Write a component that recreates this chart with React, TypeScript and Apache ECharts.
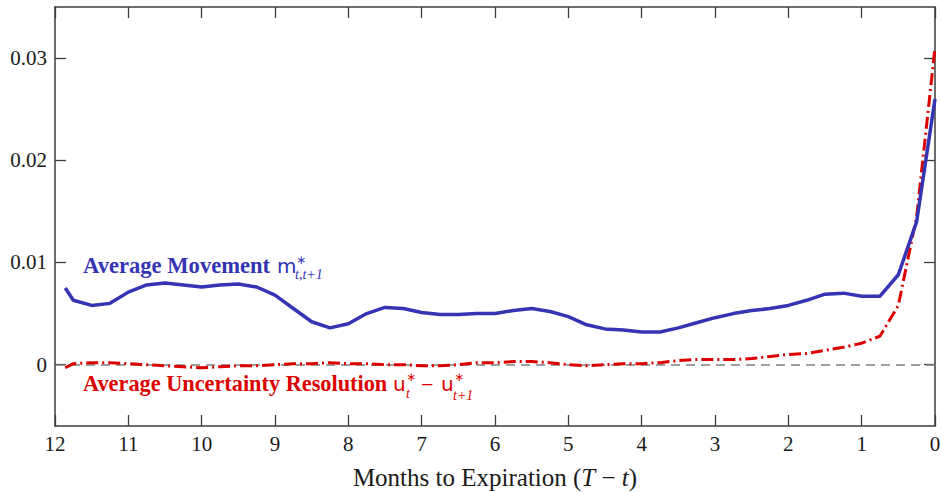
import React, { useEffect, useRef } from "react";
import * as echarts from "echarts";

const months = [
  11.86, 11.75, 11.5, 11.25, 11.0, 10.75, 10.5, 10.25, 10.0, 9.75, 9.5, 9.25, 9.0,
  8.75, 8.5, 8.25, 8.0, 7.75, 7.5, 7.25, 7.0, 6.75, 6.5, 6.25, 6.0, 5.75, 5.5, 5.25,
  5.0, 4.75, 4.5, 4.25, 4.0, 3.75, 3.5, 3.25, 3.0, 2.75, 2.5, 2.25, 2.0, 1.75, 1.5,
  1.25, 1.0, 0.75, 0.5, 0.25, 0.0,
];

const movement = [
  0.0075, 0.0063, 0.0058, 0.006, 0.0071, 0.0078, 0.008, 0.0078, 0.0076, 0.0078, 0.0079,
  0.0076, 0.0068, 0.0055, 0.0042, 0.0036, 0.004, 0.005, 0.0056, 0.0055, 0.0051, 0.0049,
  0.0049, 0.005, 0.005, 0.0053, 0.0055, 0.0052, 0.0047, 0.0039, 0.0035, 0.0034, 0.0032,
  0.0032, 0.0036, 0.0041, 0.0046, 0.005, 0.0053, 0.0055, 0.0058, 0.0063, 0.0069, 0.007,
  0.0067, 0.0067, 0.0088, 0.014, 0.026,
];

const resolution = [
  -0.0003, 0.0001, 0.0002, 0.0002, 0.0001, 0.0, -0.0001, -0.0002, -0.0003, -0.0002,
  -0.0001, -0.0001, 0.0, 0.0001, 0.0001, 0.0002, 0.0001, 0.0001, 0.0, 0.0, -0.0001,
  -0.0001, 0.0, 0.0002, 0.0002, 0.0003, 0.0003, 0.0002, 0.0, -0.0001, 0.0, 0.0001,
  0.0001, 0.0002, 0.0004, 0.0005, 0.0005, 0.0005, 0.0006, 0.0008, 0.001, 0.0011, 0.0014,
  0.0017, 0.0021, 0.0028, 0.0058, 0.0145, 0.031,
];

const yTicks = [0, 0.01, 0.02, 0.03];
const yTickLabels = ["0", "0.01", "0.02", "0.03"];

const BLUE = "#3434b4";
const RED = "#dc0000";
const AXIS = "#3c3c3c";
const SERIF = "'Liberation Serif', 'Times New Roman', serif";
const SANS = "'DejaVu Sans', 'Liberation Sans', sans-serif";

function txt(
  text: string,
  x: number,
  centerY: number,
  size: number,
  fill: string,
  opts: { bold?: boolean; italic?: boolean; family?: string } = {}
) {
  const fam = opts.family || SERIF;
  const font = `${opts.italic ? "italic " : ""}${opts.bold ? "bold " : ""}${size}px ${fam}`;
  return {
    type: "text",
    x,
    y: centerY,
    silent: true,
    style: { text, font, fill, align: "left", verticalAlign: "middle" },
  };
}

export default function App() {
  const ref = useRef<HTMLDivElement>(null);

  useEffect(() => {
    if (!ref.current) return;
    const chart = echarts.init(ref.current, null, { renderer: "svg" });

    const movData = months.map((m, i) => [m, movement[i]]);
    const resData = months.map((m, i) => [m, resolution[i]]);

    const xBase = {
      type: "value",
      min: 0,
      max: 12,
      interval: 1,
      inverse: true,
      splitLine: { show: false },
      axisLine: { show: true, onZero: false, lineStyle: { color: AXIS, width: 1.5 } },
      axisTick: { show: true, inside: true, length: 11, lineStyle: { color: AXIS, width: 1.3 } },
    };
    const yBase = {
      type: "value",
      min: -0.006,
      max: 0.035,
      splitLine: { show: false },
      axisLine: { show: true, onZero: false, lineStyle: { color: AXIS, width: 1.5 } },
      axisTick: {
        show: true,
        inside: true,
        length: 11,
        customValues: yTicks,
        lineStyle: { color: AXIS, width: 1.3 },
      },
    };

    const option: any = {
      animation: false,
      backgroundColor: "#ffffff",
      grid: {
        left: 55,
        right: 6,
        top: 7,
        bottom: 66,
        containLabel: false,
        outerBoundsMode: "none",
      },
      xAxis: [
        {
          ...xBase,
          position: "bottom",
          axisLabel: {
            show: true,
            margin: 7,
            fontSize: 21,
            fontFamily: SERIF,
            color: "#1a1a1a",
          },
          name: "Months to Expiration ({it|T} − {it|t})",
          nameLocation: "middle",
          nameGap: 39,
          nameTextStyle: {
            fontSize: 25,
            fontFamily: SERIF,
            color: "#1a1a1a",
            rich: {
              it: { fontSize: 25, fontFamily: SERIF, fontStyle: "italic", color: "#1a1a1a" },
            },
          },
        },
        {
          ...xBase,
          position: "top",
          axisLabel: { show: false },
        },
      ],
      yAxis: [
        {
          ...yBase,
          position: "left",
          axisLabel: {
            show: true,
            margin: 8,
            fontSize: 21,
            fontFamily: SERIF,
            color: "#1a1a1a",
            customValues: yTicks,
            formatter: (v: number) => {
              const idx = yTicks.findIndex((t) => Math.abs(t - v) < 1e-9);
              return idx >= 0 ? yTickLabels[idx] : "";
            },
          },
        },
        {
          ...yBase,
          position: "right",
          axisLabel: { show: false },
        },
      ],
      series: [
        {
          name: "Average Uncertainty Resolution",
          type: "line",
          data: resData,
          showSymbol: false,
          symbol: "none",
          z: 3,
          lineStyle: { color: RED, width: 3, type: [12, 4, 2, 4], cap: "butt" },
          markLine: {
            silent: true,
            symbol: "none",
            z: 1,
            label: { show: false },
            lineStyle: { color: "#808080", width: 1.5, type: [9, 6] },
            data: [{ yAxis: 0 }],
          },
        },
        {
          name: "Average Movement",
          type: "line",
          data: movData,
          showSymbol: false,
          symbol: "none",
          z: 4,
          lineStyle: { color: BLUE, width: 3.5 },
        },
      ],
      graphic: [
        txt("Average Movement", 83, 265, 22.6, BLUE, { bold: true }),
        txt("m", 277, 266, 20, BLUE, { family: SANS }),
        txt("∗", 296, 260, 12, BLUE, { family: SANS }),
        txt("t,t+1", 295, 274, 14, BLUE, { italic: true }),
        txt("Average Uncertainty Resolution", 83, 383, 22.3, RED, { bold: true }),
        txt("u", 393, 384, 20, RED, { family: SANS }),
        txt("∗", 406, 377, 12, RED, { family: SANS }),
        txt("t", 406, 393, 14, RED, { italic: true }),
        txt("−", 421, 384, 22, RED),
        txt("u", 441, 384, 20, RED, { family: SANS }),
        txt("∗", 454, 377, 12, RED, { family: SANS }),
        txt("t+1", 453, 395, 14, RED, { italic: true }),
      ],
    };

    chart.setOption(option);
    return () => chart.dispose();
  }, []);

  return (
    <div
      ref={ref}
      style={{ position: "fixed", left: 0, top: 0, width: 941, height: 492, background: "#fff" }}
    />
  );
}
